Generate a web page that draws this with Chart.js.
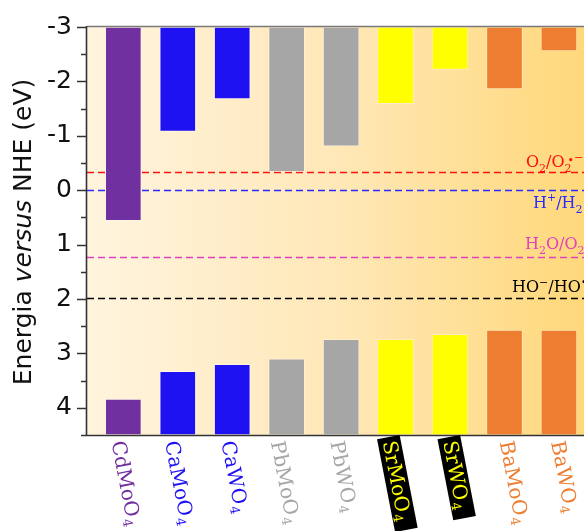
<!DOCTYPE html>
<html>
<head>
<meta charset="utf-8">
<script src="https://cdn.jsdelivr.net/npm/chart.js@4/dist/chart.umd.min.js"></script>
<style>
  html, body { margin: 0; padding: 0; background: #fff; overflow: hidden; }
  #wrap { width: 584px; height: 531px; }
</style>
</head>
<body>
<div id="wrap"><canvas id="c" width="584" height="531"></canvas></div>
<script>
// Band edges (eV vs NHE) of the molybdate / tungstate semiconductors
const materials      = ['CdMoO', 'CaMoO', 'CaWO', 'PbMoO', 'PbWO', 'SrMoO', 'SrWO', 'BaMoO', 'BaWO'];
const formulaIndex   = ['4', '4', '4', '4', '4', '4', '4', '4', '4'];
const conductionBand = [0.56, -1.08, -1.68, -0.34, -0.81, -1.59, -2.22, -1.86, -2.56];
const valenceBand    = [3.84, 3.33, 3.20, 3.10, 2.74, 2.74, 2.65, 2.57, 2.57];
const barColors      = ['#7030a0', '#1f12f2', '#1f12f2', '#a6a6a6', '#a6a6a6', '#ffff00', '#ffff00', '#ed7d31', '#ed7d31'];
const labelColors    = ['#7030a0', '#1f12f2', '#1f12f2', '#a6a6a6', '#a6a6a6', '#ffff00', '#ffff00', '#ed7d31', '#ed7d31'];
const labelBoxed     = [false, false, false, false, false, true, true, false, false];
const yTicks         = [-3, -2, -1, 0, 1, 2, 3, 4];

// Redox potentials (eV vs NHE)
const redoxLevels = [-0.33, 0, 1.23, 1.99];
const redoxColors = ['#ff1010', '#2a2aff', '#e040c0', '#000000'];
const redoxLabels = [
  [['O', 'n'], ['2', 'sub'], ['/O', 'n'], ['2', 'sub'], ['\u2022', 'dot'], ['\u2212', 'sup']],
  [['H', 'n'], ['+', 'sup'], ['/H', 'n'], ['2', 'sub']],
  [['H', 'n'], ['2', 'sub'], ['O/O', 'n'], ['2', 'sub']],
  [['HO', 'n'], ['\u2212', 'sup'], ['/HO', 'n'], ['\u2022', 'sup']]
];
const yTitleParts = [['Energia ', 'normal'], ['versus', 'italic'], [' NHE (eV)', 'normal']];

const Y_MIN = -3, Y_MAX = 4.5;
const xPositions = materials.map((_, i) => i + 1);

// small per-label shifts of the rotated names, in px
const labelShift = [-5, -6, -4, -9, -4, -6, 0, 2, -1];
// where each redox label starts and sits relative to its line
const redoxTextX = [526, 533, 525, 512];
const redoxTextDy = [-5, 18, -8, -6];

function drawRich(ctx, parts, x, y, size, family) {
  let cx = x, prevStart = x;
  for (const [t, k] of parts) {
    const small = Math.round(size * 0.68);
    let fs = size, dy = 0, px = cx;
    if (k === 'sub') { fs = small; dy = size * 0.28; }
    else if (k === 'sup') { fs = small; dy = -size * 0.42; }
    else if (k === 'dot') { fs = small; dy = -size * 0.2; px = prevStart + 3; }
    ctx.font = fs + 'px ' + family;
    ctx.fillText(t, px, y + dy);
    const w = ctx.measureText(t).width;
    if (k === 'dot') { cx = px + w; }
    else { prevStart = px; cx = px + w; }
  }
  return cx;
}

const decor = {
  id: 'decor',
  beforeDatasetsDraw(chart) {
    const { ctx, chartArea: a, scales: { y } } = chart;
    ctx.save();
    const g = ctx.createLinearGradient(a.left, 0, 584, 0);
    g.addColorStop(0, '#fff4de');
    g.addColorStop(0.5, '#ffe8b8');
    g.addColorStop(1, '#ffd87a');
    ctx.fillStyle = g;
    ctx.fillRect(a.left, a.top, a.right - a.left, a.bottom - a.top);

    // reference redox levels
    ctx.lineWidth = 1.6;
    ctx.setLineDash([7, 4]);
    redoxLevels.forEach((v, i) => {
      const py = Math.round(y.getPixelForValue(v)) + 0.5;
      ctx.strokeStyle = redoxColors[i];
      ctx.beginPath();
      ctx.moveTo(a.left, py);
      ctx.lineTo(a.right, py);
      ctx.stroke();
    });
    ctx.setLineDash([]);
    ctx.textBaseline = 'alphabetic';
    ctx.textAlign = 'left';
    redoxLevels.forEach((v, i) => {
      ctx.fillStyle = redoxColors[i];
      drawRich(ctx, redoxLabels[i], redoxTextX[i], y.getPixelForValue(v) + redoxTextDy[i], 16, '"DejaVu Serif"');
    });
    ctx.restore();
  },
  afterDatasetsDraw(chart) {
    const { ctx, chartArea: a, scales: { x, y } } = chart;
    ctx.save();
    // frame
    ctx.strokeStyle = '#7a7a7a';
    ctx.lineWidth = 1.5;
    ctx.beginPath();
    ctx.moveTo(a.left, a.top - 0.5);
    ctx.lineTo(584, a.top - 0.5);
    ctx.stroke();
    ctx.strokeStyle = '#333';
    ctx.lineWidth = 1.6;
    ctx.beginPath();
    ctx.moveTo(a.left - 0.5, a.top - 1);
    ctx.lineTo(a.left - 0.5, a.bottom + 0.5);
    ctx.lineTo(584, a.bottom + 0.5);
    ctx.stroke();

    // tick marks on the energy axis (major every 1 eV, minor every 0.5 eV)
    ctx.lineWidth = 1.5;
    for (let v = Y_MIN; v <= Y_MAX + 1e-9; v += 0.5) {
      const py = Math.round(y.getPixelForValue(v)) + 0.5;
      const len = Number.isInteger(v) ? 9 : 5;
      ctx.beginPath();
      ctx.moveTo(a.left - 1, py);
      ctx.lineTo(a.left - 1 - len, py);
      ctx.stroke();
    }

    // rotated compound names
    const rot = 79 * Math.PI / 180;
    materials.forEach((name, i) => {
      const cx = x.getPixelForValue(xPositions[i]) + labelShift[i];
      ctx.save();
      ctx.translate(cx, 441);
      ctx.rotate(rot);
      ctx.font = '20px "DejaVu Serif"';
      const w1 = ctx.measureText(name).width;
      ctx.font = '13px "DejaVu Serif"';
      const w2 = ctx.measureText(formulaIndex[i]).width;
      if (labelBoxed[i]) {
        ctx.fillStyle = '#000';
        ctx.fillRect(-4, -11, w1 + w2 + 14, 23);
      }
      ctx.fillStyle = labelColors[i];
      ctx.textAlign = 'left';
      ctx.textBaseline = 'alphabetic';
      ctx.font = '20px "DejaVu Serif"';
      ctx.fillText(name, 0, 7);
      ctx.font = '13px "DejaVu Serif"';
      ctx.fillText(formulaIndex[i], w1 + 1, 11);
      ctx.restore();
    });

    // axis title with italic "versus"
    ctx.save();
    ctx.translate(24, 232);
    ctx.rotate(-Math.PI / 2);
    ctx.fillStyle = '#111';
    ctx.textBaseline = 'middle';
    ctx.textAlign = 'left';
    let total = 0;
    const widths = yTitleParts.map(([t, st]) => {
      ctx.font = (st === 'italic' ? 'italic ' : '') + '25px "DejaVu Sans"';
      const w = ctx.measureText(t).width;
      total += w;
      return w;
    });
    let px = -total / 2;
    yTitleParts.forEach(([t, st], i) => {
      ctx.font = (st === 'italic' ? 'italic ' : '') + '25px "DejaVu Sans"';
      ctx.fillText(t, px, 0);
      px += widths[i];
    });
    ctx.restore();
    ctx.restore();
  }
};

const commonBar = {
  barThickness: 36,
  grouped: false,
  borderWidth: 1,
  borderColor: 'rgba(255,255,255,0.35)',
  borderSkipped: false,
  backgroundColor: barColors
};

new Chart(document.getElementById('c'), {
  type: 'bar',
  data: {
    datasets: [
      Object.assign({ label: 'BC', data: xPositions.map((p, i) => ({ x: p, y: [Y_MIN, conductionBand[i]] })) }, commonBar),
      Object.assign({ label: 'BV', data: xPositions.map((p, i) => ({ x: p, y: [valenceBand[i], Y_MAX] })) }, commonBar)
    ]
  },
  options: {
    responsive: false,
    animation: false,
    devicePixelRatio: 1,
    layout: { padding: { top: 27, left: 0, right: 0, bottom: 0 } },
    plugins: { legend: { display: false }, tooltip: { enabled: false } },
    scales: {
      x: {
        type: 'linear',
        offset: false,
        min: 0.333,
        max: 9.46,
        grid: { display: false },
        border: { display: false },
        ticks: { display: false },
        afterFit: s => { s.height = 96; s.paddingLeft = 0; s.paddingRight = 0; }
      },
      y: {
        min: Y_MIN,
        max: Y_MAX,
        reverse: true,
        grid: { display: false, drawTicks: false },
        border: { display: false },
        afterFit: s => { s.width = 87; s.paddingTop = 0; s.paddingBottom = 0; },
        afterBuildTicks: s => { s.ticks = yTicks.map(v => ({ value: v })); },
        ticks: {
          autoSkip: false,
          padding: 15,
          color: '#111',
          font: { family: '"DejaVu Sans"', size: 25 },
          callback: v => String(v)
        }
      }
    }
  },
  plugins: [decor]
});
</script>
</body>
</html>
